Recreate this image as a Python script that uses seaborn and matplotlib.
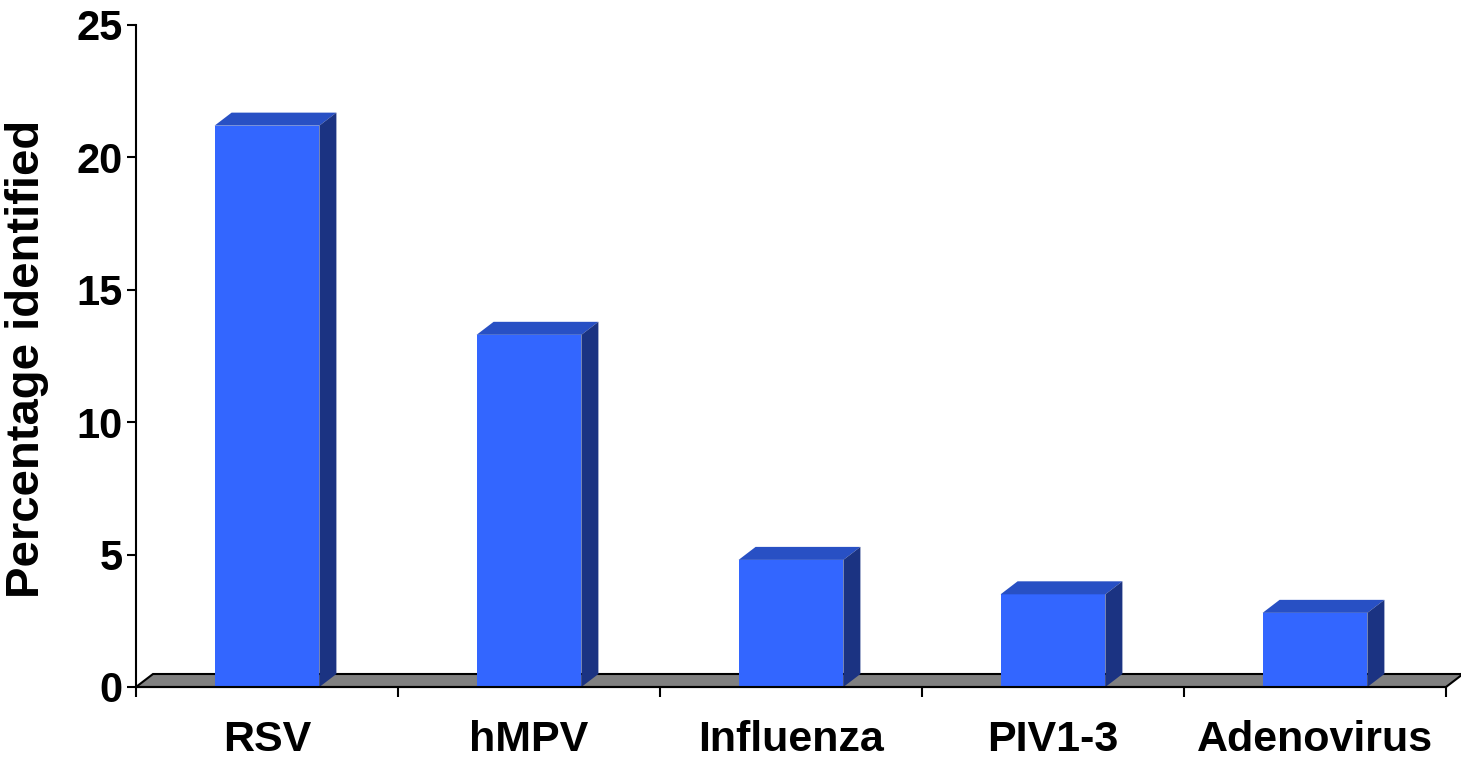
import numpy as np
import pandas as pd
import matplotlib
matplotlib.use('Agg')
import matplotlib.pyplot as plt
import seaborn as sns

# data
viruses = ['RSV', 'hMPV', 'Influenza', 'PIV1-3', 'Adenovirus']
percent = [21.2, 13.3, 4.8, 3.5, 2.8]
yticks = [0, 5, 10, 15, 20, 25]

front_col = '#3366FF'
top_col = '#2850C4'
side_col = '#1B3382'
floor_col = '#808080'

sns.set_style('white')
plt.rcParams['font.family'] = ['Liberation Sans', 'DejaVu Sans']
plt.rcParams['font.weight'] = 'bold'
plt.rcParams['text.color'] = 'black'
plt.rcParams['xtick.color'] = 'black'
plt.rcParams['ytick.color'] = 'black'

df = pd.DataFrame({'virus': viruses, 'pct': percent})

fig = plt.figure(figsize=(14.61, 7.63), dpi=100)
ax = fig.add_axes([136/1461, 76/763, 1327/1461, 662/763])

sns.barplot(data=df, x='virus', y='pct', color=front_col, saturation=1,
            width=0.4, linewidth=0, ax=ax, zorder=3)

# depth of the fake 3d effect, in data units
dx = 17/262
dy = 13/26.48

# floor
n = len(viruses)
fx = [-0.5, n - 0.5, n - 0.5 + dx, -0.5 + dx]
fy = [0, 0, dy, dy]
ax.fill(fx, fy, facecolor=floor_col, edgecolor='black', linewidth=1.5, zorder=1, clip_on=False)

# top and side faces for each bar
for p in ax.patches[:n]:
    x0 = p.get_x()
    w = p.get_width()
    h = p.get_height()
    ax.fill([x0, x0 + w, x0 + w + dx, x0 + dx], [h, h, h + dy, h + dy],
            facecolor=top_col, edgecolor='none', zorder=3, clip_on=False)
    ax.fill([x0 + w, x0 + w + dx, x0 + w + dx, x0 + w], [0, dy, h + dy, h],
            facecolor=side_col, edgecolor='none', zorder=3, clip_on=False)

ax.set_xlim(-0.5, n - 0.5 + dx)
ax.set_ylim(0, 25)
ax.set_yticks(yticks)
ax.set_yticklabels([str(t) for t in yticks], fontsize=30, fontweight='bold', color='black')

# category boundaries as major ticks, labels on minor ticks
ax.set_xticks(np.arange(n + 1) - 0.5)
ax.set_xticklabels([])
ax.set_xticks(np.arange(n), minor=True)
ax.set_xticklabels(viruses, minor=True, fontsize=31, fontweight='bold', color='black')
ax.tick_params(axis='x', which='major', bottom=True, direction='out', length=7, width=1.5, color='black')
ax.tick_params(axis='x', which='minor', bottom=True, length=0, pad=24)
ax.tick_params(axis='y', left=True, direction='out', length=6.5, width=1.5, color='black', pad=3)
ax.set_xlabel('')
ax.set_ylabel('')

for s in ['top', 'right']:
    ax.spines[s].set_visible(False)
ax.spines['left'].set_linewidth(1.5)
ax.spines['bottom'].set_linewidth(1.5)
ax.spines['left'].set_color('black')
ax.spines['bottom'].set_color('black')
ax.spines['bottom'].set_bounds(-0.5, n - 0.5)
ax.spines['bottom'].set_zorder(4)

fig.text(27/1461, 1 - 359/763, 'Percentage identified', rotation=90,
         ha='center', va='center', fontsize=34, fontweight='bold', color='black')

fig.savefig('out.png', dpi=100)
